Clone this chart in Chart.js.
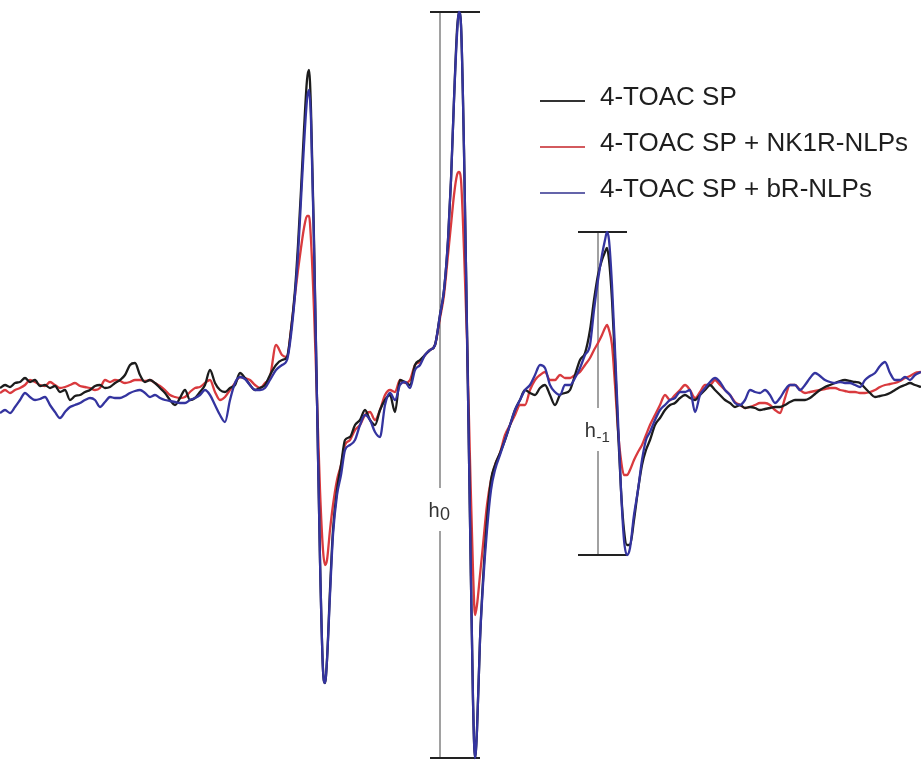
<!DOCTYPE html>
<html>
<head>
<meta charset="utf-8">
<script src="https://cdn.jsdelivr.net/npm/chart.js@4.4.0/dist/chart.umd.min.js"></script>
<style>
html,body{margin:0;padding:0;background:#fff;}
#wrap{width:921px;height:762px;position:relative;}
</style>
</head>
<body>
<div id="wrap"><canvas id="c" width="921" height="762"></canvas></div>
<script>
// Field positions (arbitrary field units, left to right)
const fieldPoints = [
  0,5,10,15,20,25,30,35,40,45,50,55,60,65,70,75,80,85,90,95,100,105,110,115,120,125,130,135,140,145,
  150,155,160,165,170,175,180,185,190,195,200,205,210,215,220,225,230,235,240,245,250,255,260,265,270,
  276,282,287,291,295,298,301,304,307,309,
  311,314,317,320,323,325,327,330,333,337,
  341,345,350,355,360,365,370,375,380,385,
  390,395,400,405,410,415,420,425,430,435,
  440,444,448,451,454,457,459,461,464,467,
  470,473,475,477,480,483,487,491,495,500,
  505,510,515,520,525,530,535,540,545,550,
  555,560,565,570,575,580,585,590,594,598,
  602,605,607,609,612,615,618,621,624,627,
  630,634,638,642,646,650,655,660,665,670,
  675,680,685,690,695,700,705,710,715,720,
  725,730,735,740,745,
  750,755,760,765,770,775,780,785,790,795,
  800,805,810,815,820,825,830,835,840,845,
  850,855,860,865,870,875,880,885,890,895,
  900,905,910,915,921
];

// 4-TOAC SP (first-derivative EPR signal, arbitrary units)
const signalSP = [
  2,5,3,7,8,12,8,10,4,5, 2,4,-2,0,-10,-6,-5,-2,0,4, 5,2,3,7,10,15,25,27,15,8,
  10,7,2,-3,-10,-15,-8,0,-10,-8, -2,5,20,7,0,-2,2,5,17,12, 5,0,2,5,15,
  25,30,33,60,100,145,200,260,310,320,
  280,150,-10,-170,-280,-293,-270,-200,-140,-100,
  -75,-50,-47,-35,-30,-20,-30,-35,-20,-10,
  -5,-22,10,8,5,25,30,35,40,45,
  75,100,150,210,290,360,378,365,240,60,
  -130,-310,-368,-340,-250,-190,-130,-90,-75,-63,
  -50,-35,-20,-10,0,-3,-5,2,5,-5,
  -15,-5,-3,0,15,30,37,60,90,115,
  130,138,142,130,90,30,-40,-100,-140,-155,
  -155,-130,-100,-75,-60,-50,-35,-28,-20,-15,
  -13,-8,-5,-8,-10,-5,0,5,0,-5,
  -10,-13,-17,-15,-18,
  -17,-18,-20,-19,-18,-17,-17,-15,-12,-10,
  -10,-10,-8,-4,0,3,5,7,9,10,
  9,8,7,2,-3,-7,-6,-5,-3,0,
  3,5,7,5,3
];

// 4-TOAC SP + NK1R-NLPs
const signalNK1R = [
  -3,0,-3,0,2,5,10,8,5,4, 8,5,2,3,5,7,4,3,2,0, 2,10,8,10,9,7,8,10,10,9,
  10,7,4,0,-5,-7,-8,-7,-2,2, 3,7,10,-2,-10,-7,0,7,13,12, 10,5,2,7,13,
  45,35,33,60,95,120,142,162,174,174,
  150,80,-10,-100,-160,-175,-170,-140,-115,-90,
  -75,-55,-50,-40,-35,-25,-22,-30,-20,-5,
  0,-2,10,7,10,25,28,35,40,45,
  72,95,135,165,195,215,218,210,140,50,
  -70,-180,-225,-215,-185,-155,-115,-90,-75,-63,
  -45,-35,-25,-15,-15,0,10,15,18,10,
  10,15,12,12,15,18,25,32,40,47,
  55,62,65,60,45,5,-40,-70,-85,-85,
  -80,-70,-62,-55,-45,-35,-25,-15,-5,-10,
  -5,0,5,0,-8,-2,5,5,10,5,
  0,-5,-12,-15,-18,
  -17,-15,-13,-13,-15,-20,-23,-8,5,5,
  0,-3,-2,-1,0,1,2,2,0,-1,
  -2,-2,-3,-3,-2,0,3,5,6,7,
  9,12,14,17,18
];

// 4-TOAC SP + bR-NLPs
const signalBR = [
  -23,-20,-23,-17,-10,-3,-7,-10,-9,-7, -15,-22,-28,-22,-17,-15,-13,-10,-8,-10, -17,-12,-7,-8,-8,-6,-3,-1,0,-3,
  -7,-5,-8,-10,-11,-12,-13,-13,-10,-8, -5,0,-5,-15,-25,-32,-10,7,13,11, 5,0,0,2,10,
  20,25,30,55,95,135,190,245,290,300,
  270,145,-10,-170,-280,-293,-270,-205,-145,-105,
  -85,-60,-55,-50,-35,-25,-30,-42,-47,-15,
  -3,-10,5,8,2,20,25,35,40,45,
  75,100,150,210,290,355,378,365,240,60,
  -130,-310,-368,-340,-250,-195,-140,-100,-80,-65,
  -50,-35,-20,-10,0,5,15,25,22,5,
  -2,-5,5,5,12,22,35,45,80,110,
  135,150,158,150,105,40,-30,-100,-150,-165,
  -158,-125,-100,-70,-50,-42,-30,-20,-15,-10,
  -8,-2,-2,0,-22,-5,2,8,12,8,
  0,-5,-13,-15,-10,
  0,-2,-3,0,-5,-13,-8,0,5,5,
  0,5,12,17,14,10,8,7,8,7,
  7,5,3,10,14,17,24,28,17,10,
  10,13,10,15,18
];

const seriesLabels = ['4-TOAC SP', '4-TOAC SP + NK1R-NLPs', '4-TOAC SP + bR-NLPs'];

// Peak-to-peak height markers (measured on the bR-NLPs trace)
const markerNames = ['0', '-1'];              // subscripts of h
const markerField = [440, 598];               // field position of the measuring bar
const markerWindowFrom = [440, 590];          // field window of the line measured
const markerWindowTo = [490, 640];
const markerCapFrom = [430, 578];
const markerCapTo = [480, 627];
const markerLabelLevel = [-119, -39];         // signal level where the label sits

const toXY = (arr) => fieldPoints.map((f, i) => ({x: f, y: arr[i]}));

const colors = ['#1c1c1c', '#d93a3e', '#34349f'];
const legendColors = ['#333333', '#d35a5e', '#6464aa'];

const markerPlugin = {
  id: 'hmarks',
  beforeDatasetsDraw(chart) {
    const {ctx, scales: {x, y}} = chart;
    ctx.save();
    markerNames.forEach((sub, i) => {
      let top = -Infinity, bot = Infinity;
      fieldPoints.forEach((f, j) => {
        if (f >= markerWindowFrom[i] && f <= markerWindowTo[i]) {
          top = Math.max(top, signalBR[j]);
          bot = Math.min(bot, signalBR[j]);
        }
      });
      const px = x.getPixelForValue(markerField[i]);
      const pt = y.getPixelForValue(top);
      const pb = y.getPixelForValue(bot);
      const pl = y.getPixelForValue(markerLabelLevel[i]);
      ctx.strokeStyle = '#8a8a8a';
      ctx.lineWidth = 1.6;
      ctx.beginPath();
      ctx.moveTo(px, pt); ctx.lineTo(px, pl - 21);
      ctx.moveTo(px, pl + 22); ctx.lineTo(px, pb);
      ctx.stroke();
      ctx.strokeStyle = '#222';
      ctx.lineWidth = 2.2;
      ctx.beginPath();
      ctx.moveTo(x.getPixelForValue(markerCapFrom[i]), pt);
      ctx.lineTo(x.getPixelForValue(markerCapTo[i]), pt);
      ctx.moveTo(x.getPixelForValue(markerCapFrom[i]), pb);
      ctx.lineTo(x.getPixelForValue(markerCapTo[i]), pb);
      ctx.stroke();
      // label h with subscript
      ctx.fillStyle = '#333';
      ctx.textBaseline = 'alphabetic';
      const subFont = (sub === '0' ? '18px' : '15px') + ' "Liberation Sans", Arial, sans-serif';
      ctx.font = '20px "Liberation Sans", Arial, sans-serif';
      const hw = ctx.measureText('h').width;
      ctx.font = subFont;
      const sw = ctx.measureText(sub).width;
      const startX = px - (hw + sw) / 2 - 1;
      ctx.font = '20px "Liberation Sans", Arial, sans-serif';
      ctx.textAlign = 'left';
      ctx.fillText('h', startX, pl + 8);
      ctx.font = subFont;
      ctx.fillText(sub, startX + hw + 0.5, pl + (sub === '0' ? 11 : 13));
    });
    ctx.restore();
  },
  afterDraw(chart) {
    const {ctx} = chart;
    ctx.save();
    const rowsY = [101, 147, 193];
    chart.data.datasets.forEach((ds, i) => {
      ctx.strokeStyle = legendColors[i];
      ctx.lineWidth = 2.2;
      ctx.beginPath();
      ctx.moveTo(540, rowsY[i]);
      ctx.lineTo(585, rowsY[i]);
      ctx.stroke();
      ctx.fillStyle = '#1e1e1e';
      ctx.font = '26px "Liberation Sans", Arial, sans-serif';
      ctx.textAlign = 'left';
      ctx.textBaseline = 'middle';
      ctx.fillText(ds.label, 600, rowsY[i] - 3);
    });
    ctx.restore();
  }
};

new Chart(document.getElementById('c'), {
  type: 'line',
  data: {
    datasets: [
      {label: seriesLabels[0], data: toXY(signalSP), borderColor: colors[0], order: 1},
      {label: seriesLabels[1], data: toXY(signalNK1R), borderColor: colors[1], order: 2},
      {label: seriesLabels[2], data: toXY(signalBR), borderColor: colors[2], order: 0}
    ].map(d => Object.assign(d, {
      borderWidth: 2.3, pointRadius: 0, fill: false,
      cubicInterpolationMode: 'monotone'
    }))
  },
  options: {
    responsive: false,
    devicePixelRatio: 1,
    animation: false,
    layout: {padding: 0},
    plugins: {legend: {display: false}, tooltip: {enabled: false}},
    scales: {
      x: {type: 'linear', min: 0, max: 921, display: false},
      y: {type: 'linear', min: -372, max: 390, display: false}
    }
  },
  plugins: [markerPlugin]
});
</script>
</body>
</html>
